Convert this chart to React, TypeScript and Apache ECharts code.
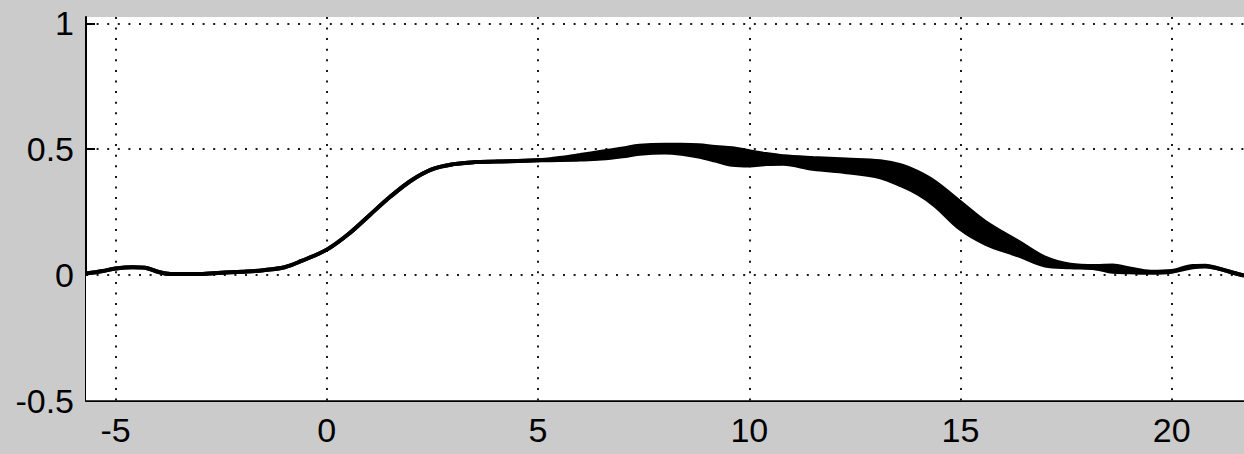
import React, { useEffect, useRef } from "react";
import * as echarts from "echarts";

// Sample positions along x and the lower / upper edges of the plotted band
const xs = [
  -5.7, -5.3, -5.0, -4.6, -4.3, -4.0, -3.7, -3.0, -2.5, -2.0, -1.5, -1.0, -0.6, 0, 0.5, 1.0, 1.5, 2.0,
  2.5, 3.0, 3.5, 4.0, 5.0, 5.5, 6.0, 6.5, 7.0, 7.4, 8.0, 8.4, 8.8, 9.2, 9.6, 10.0, 10.4, 10.8, 11.5,
  12.3, 13.1, 13.6, 14.0, 14.4, 15.0, 15.6, 16.4, 17.0, 17.6, 18.2, 18.6, 19.0, 19.5, 20.0, 20.5, 20.8,
  21.1, 21.5, 21.71,
];
const lower = [
  0.005, 0.015, 0.025, 0.03, 0.028, 0.012, 0.003, 0.003, 0.008, 0.012, 0.018, 0.03, 0.055, 0.1, 0.16,
  0.235, 0.31, 0.375, 0.42, 0.44, 0.448, 0.45, 0.455, 0.456, 0.458, 0.462, 0.471, 0.481, 0.486, 0.481,
  0.47, 0.454, 0.437, 0.434, 0.44, 0.441, 0.421, 0.408, 0.388, 0.355, 0.322, 0.275, 0.182, 0.123,
  0.075, 0.037, 0.03, 0.025, 0.012, 0.01, 0.008, 0.012, 0.03, 0.033, 0.025, 0.006, -0.003,
];
const upper = [
  0.005, 0.015, 0.025, 0.03, 0.028, 0.012, 0.003, 0.003, 0.008, 0.012, 0.018, 0.03, 0.055, 0.1, 0.16,
  0.235, 0.31, 0.375, 0.42, 0.44, 0.448, 0.45, 0.455, 0.464, 0.476, 0.489, 0.502, 0.513, 0.517, 0.517,
  0.515, 0.508, 0.503, 0.491, 0.48, 0.471, 0.464, 0.458, 0.451, 0.435, 0.407, 0.368, 0.288, 0.208,
  0.128, 0.068, 0.04, 0.035, 0.037, 0.025, 0.012, 0.015, 0.035, 0.036, 0.025, 0.006, -0.003,
];
const xTicks = [-5, 0, 5, 10, 15, 20];
const yTicks = [-0.5, 0, 0.5, 1];
const yGrid = [0, 0.5, 1];

export default function App() {
  const ref = useRef<HTMLDivElement>(null);
  useEffect(() => {
    document.body.style.margin = "0";
    const chart = echarts.init(ref.current!, null, { renderer: "svg" });
    const lowerData = xs.map((x, i) => [x, lower[i]]);
    const upperData = xs.map((x, i) => [x, upper[i]]);
    const gridStyle = { color: "#000", width: 2, type: [2, 8.6] as any, opacity: 0.9 };
    const font = { fontFamily: "'Liberation Sans', Arial, sans-serif", fontSize: 34, color: "#000" };
    const smooth = 0.35;
    chart.setOption({
      animation: false,
      backgroundColor: "#cbcbcb",
      grid: {
        left: 86,
        right: 0,
        top: 17,
        bottom: 53.5,
        show: true,
        backgroundColor: "#ffffff",
        borderWidth: 0,
      },
      xAxis: {
        type: "value",
        min: -5.7,
        max: 21.71,
        axisLine: { show: true, onZero: false, lineStyle: { color: "#000", width: 2 } },
        axisTick: { show: true, inside: true, length: 9, customValues: xTicks, lineStyle: { color: "#000", width: 2 } },
        axisLabel: { ...font, margin: 12, customValues: xTicks },
        splitLine: { show: false },
      },
      yAxis: {
        type: "value",
        min: -0.5,
        max: 1.025,
        interval: 0.5,
        axisLine: { show: true, onZero: false, lineStyle: { color: "#000", width: 2 } },
        axisTick: { show: true, inside: true, length: 9, customValues: yTicks, lineStyle: { color: "#000", width: 2 } },
        axisLabel: { ...font, margin: 12, customValues: yTicks },
        splitLine: { show: false },
      },
      series: [
        {
          type: "line",
          name: "upperFill",
          data: upperData,
          smooth,
          symbol: "none",
          lineStyle: { width: 0, opacity: 0 },
          areaStyle: { color: "#000", opacity: 1, origin: "start" },
          z: 1,
        },
        {
          type: "line",
          name: "lowerFill",
          data: lowerData,
          smooth,
          symbol: "none",
          lineStyle: { width: 0, opacity: 0 },
          areaStyle: { color: "#fff", opacity: 1, origin: "start" },
          z: 2,
        },
        {
          type: "line",
          name: "gridLines",
          data: [],
          symbol: "none",
          z: 3,
          markLine: {
            silent: true,
            symbol: "none",
            label: { show: false },
            lineStyle: gridStyle,
            data: [
              ...xTicks.map((v) => ({ xAxis: v })),
              ...yGrid.map((v) => ({ yAxis: v })),
            ],
          },
        },
        {
          type: "line",
          name: "lower",
          data: lowerData,
          smooth,
          symbol: "none",
          lineStyle: { color: "#000", width: 4 },
          z: 4,
        },
        {
          type: "line",
          name: "upper",
          data: upperData,
          smooth,
          symbol: "none",
          lineStyle: { color: "#000", width: 4 },
          z: 4,
        },
      ],
    });
    return () => chart.dispose();
  }, []);
  return <div ref={ref} style={{ width: 1244, height: 454 }} />;
}
